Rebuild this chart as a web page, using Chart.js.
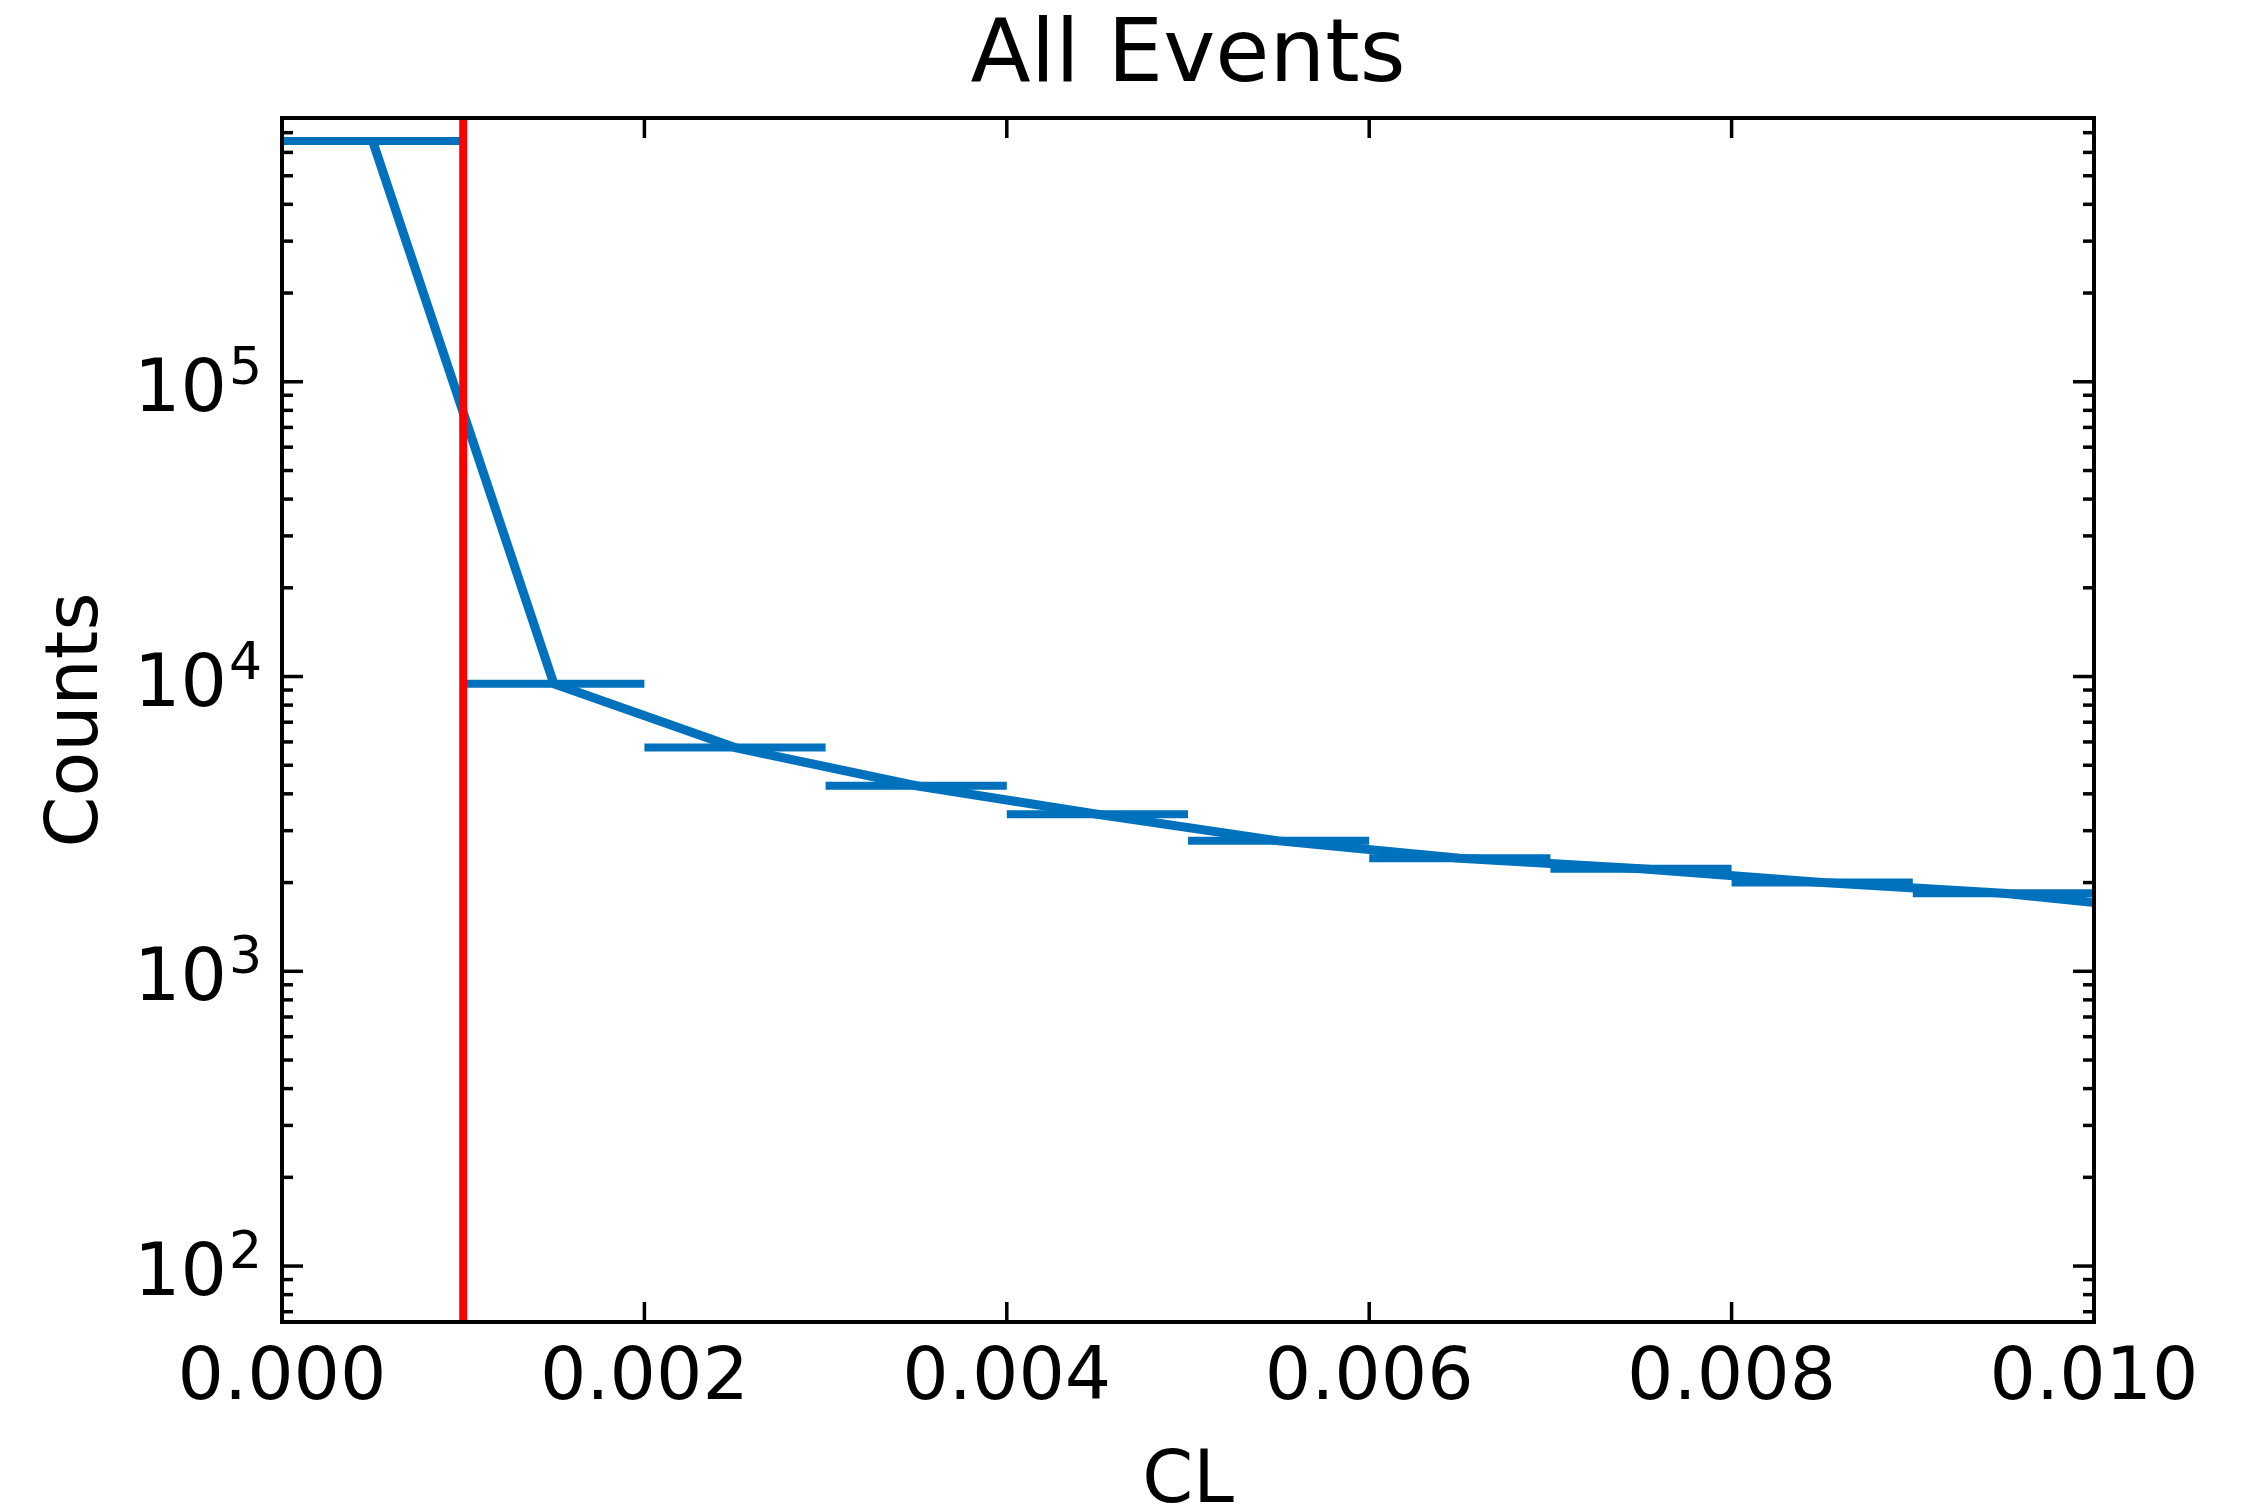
<!DOCTYPE html>
<html>
<head>
<meta charset="utf-8">
<script src="https://cdn.jsdelivr.net/npm/chart.js@4.4.1/dist/chart.umd.min.js"></script>
<style>
  html, body { margin: 0; padding: 0; background: #fff; }
  #wrap { width: 2254px; height: 1511px; position: relative; }
</style>
</head>
<body>
<div id="wrap"><canvas id="clChart"></canvas></div>
<script>
// histogram of CL, bin width 0.001
const binCenters = [0.0005, 0.0015, 0.0025, 0.0035, 0.0045, 0.0055, 0.0065, 0.0075, 0.0085, 0.0095, 0.0105];
const counts = [656000, 9450, 5740, 4260, 3410, 2770, 2420, 2230, 2000, 1840, 1590];
const binHalfWidth = 0.0005;
const cutValue = 0.001;

const xTicks = [0, 0.002, 0.004, 0.006, 0.008, 0.010];
const yMajorTicks = [100, 1000, 10000, 100000];
const xRange = [0, 0.01];
const yRange = [64.6, 785000];

const titleText = 'All Events';
const xLabel = 'CL';
const yLabel = 'Counts';

const blue = 'rgb(0, 114, 189)';
const red = 'rgb(255, 0, 0)';
const fontFamily = "'DejaVu Sans', sans-serif";

// points for the line through the bin centres
const centrePoints = binCenters.map((x, i) => ({ x: x, y: counts[i] }));

// horizontal error bars, separated by null gaps
const errPoints = [];
binCenters.forEach((x, i) => {
    errPoints.push({ x: x - binHalfWidth, y: counts[i] });
    errPoints.push({ x: x + binHalfWidth, y: counts[i] });
    errPoints.push({ x: x, y: null });
});

const cutPoints = [{ x: cutValue, y: 1 }, { x: cutValue, y: 1e8 }];

// frame, inward ticks, y labels with exponents, title and axis titles
const decorPlugin = {
    id: 'decor',
    beforeDraw(chart) {
        const ctx = chart.ctx;
        ctx.save();
        ctx.fillStyle = '#fff';
        ctx.fillRect(0, 0, chart.width, chart.height);
        ctx.restore();
    },
    afterDraw(chart) {
        const ctx = chart.ctx;
        const a = chart.chartArea;
        const x = chart.scales.x;
        const y = chart.scales.y;

        function seg(x1, y1, x2, y2) {
            ctx.beginPath();
            ctx.moveTo(x1, y1);
            ctx.lineTo(x2, y2);
            ctx.stroke();
        }

        ctx.save();
        ctx.strokeStyle = '#000';
        ctx.lineWidth = 3.5;

        xTicks.forEach(v => {
            const px = x.getPixelForValue(v);
            seg(px, a.bottom, px, a.bottom - 20);
            seg(px, a.top, px, a.top + 20);
        });

        const eLo = Math.floor(Math.log10(yRange[0]));
        const eHi = Math.ceil(Math.log10(yRange[1]));
        for (let e = eLo; e <= eHi; e++) {
            for (let k = 1; k <= 9; k++) {
                const v = k * Math.pow(10, e);
                if (v < yRange[0] || v > yRange[1]) continue;
                const py = y.getPixelForValue(v);
                const len = k === 1 ? 21 : 11;
                seg(a.left, py, a.left + len, py);
                seg(a.right, py, a.right - len, py);
            }
        }

        ctx.lineWidth = 4;
        ctx.strokeRect(a.left, a.top, a.right - a.left, a.bottom - a.top);

        // y tick labels 10^n
        ctx.fillStyle = '#000';
        ctx.textBaseline = 'alphabetic';
        yMajorTicks.forEach(v => {
            const py = y.getPixelForValue(v);
            const exp = String(Math.round(Math.log10(v)));
            ctx.font = '52px ' + fontFamily;
            const expW = ctx.measureText(exp).width;
            const expX = a.left - 20 - expW;
            ctx.textAlign = 'left';
            ctx.fillText(exp, expX, py + 2);
            ctx.font = '73px ' + fontFamily;
            ctx.textAlign = 'right';
            ctx.fillText('10', expX - 2, py + 29);
        });

        // title and axis titles
        const cx = (a.left + a.right) / 2;
        const cy = (a.top + a.bottom) / 2;
        ctx.textAlign = 'center';
        ctx.font = '88px ' + fontFamily;
        ctx.fillText(titleText, cx, 81);
        ctx.font = '73px ' + fontFamily;
        ctx.fillText(xLabel, cx, 1502);
        ctx.translate(97, cy);
        ctx.rotate(-Math.PI / 2);
        ctx.fillText(yLabel, 0, 0);
        ctx.restore();
    }
};

const ctx = document.getElementById('clChart').getContext('2d');
const chart = new Chart(ctx, {
    type: 'line',
    data: {
        datasets: [
            {
                label: 'cut',
                data: cutPoints,
                borderColor: red,
                borderWidth: 8,
                pointRadius: 0,
                clip: 0,
                order: 0
            },
            {
                label: 'errors',
                data: errPoints,
                borderColor: blue,
                borderWidth: 8,
                pointRadius: 0,
                spanGaps: false,
                clip: 0,
                order: 1
            },
            {
                label: 'counts',
                data: centrePoints,
                borderColor: blue,
                borderWidth: 9,
                borderJoinStyle: 'round',
                pointRadius: 0,
                tension: 0,
                clip: 0,
                order: 2
            }
        ]
    },
    options: {
        responsive: true,
        maintainAspectRatio: false,
        animation: false,
        devicePixelRatio: 1,
        layout: { padding: { top: 118, right: 160, left: 0, bottom: 0 } },
        plugins: {
            legend: { display: false },
            tooltip: { enabled: false },
            title: { display: false }
        },
        scales: {
            x: {
                type: 'linear',
                min: xRange[0],
                max: xRange[1],
                bounds: 'data',
                grid: { display: false, drawTicks: false },
                border: { display: false },
                afterBuildTicks: scale => {
                    scale.ticks = xTicks.map(v => ({ value: v }));
                },
                afterFit: scale => { scale.height = 189; },
                ticks: {
                    color: '#000',
                    font: { family: fontFamily, size: 73 },
                    padding: 14,
                    maxRotation: 0,
                    autoSkip: false,
                    callback: v => Number(v).toFixed(3)
                }
            },
            y: {
                type: 'logarithmic',
                min: yRange[0],
                max: yRange[1],
                bounds: 'data',
                grid: { display: false, drawTicks: false },
                border: { display: false },
                ticks: { display: false },
                afterFit: scale => { scale.width = 282; }
            }
        }
    },
    plugins: [decorPlugin]
});
</script>
</body>
</html>
